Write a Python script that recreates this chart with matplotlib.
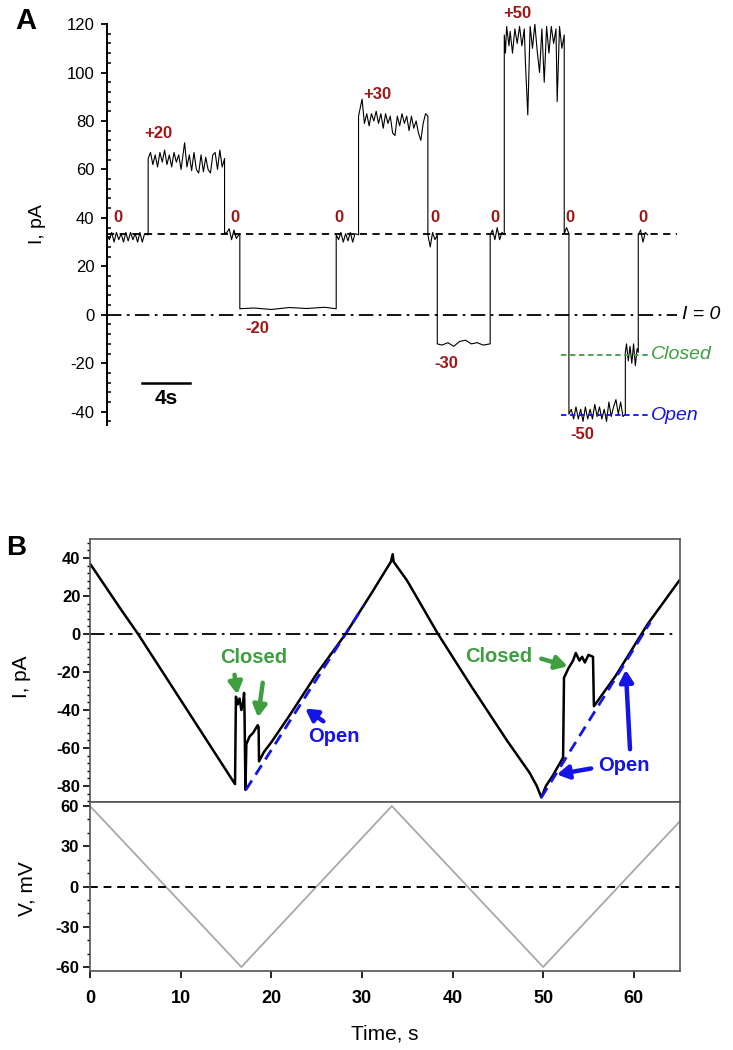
import matplotlib
matplotlib.use('Agg')
import matplotlib.pyplot as plt
from matplotlib.ticker import MultipleLocator

plt.rcParams['font.family'] = ['Liberation Sans', 'DejaVu Sans']
plt.rcParams['axes.unicode_minus'] = False

# ---- panel A: current steps at fixed voltages (time in s, current in pA)
seg_start = [0.0, 3.5, 10.0, 11.3, 19.5, 21.4, 27.3, 28.1, 32.6, 33.8, 38.9, 39.3, 44.1, 45.2]
seg_end = [3.5, 10.0, 11.3, 19.5, 21.4, 27.3, 28.1, 32.6, 33.8, 38.9, 39.3, 44.1, 45.2, 46.0]
seg_level = [33.0, 64.5, 33.5, 2.5, 33.0, 82.0, 33.0, -12.0, 33.0, 115.5, 33.5, -41.0, -15.5, 33.0]
# hand-read noise points inside each segment (t, I)
seg_noise = [
    [(0.2, 31), (0.4, 34), (0.6, 30), (0.8, 34), (1.0, 31), (1.2, 33.5), (1.4, 30), (1.6, 34),
     (1.8, 30.5), (2.0, 34), (2.2, 31), (2.4, 33.5), (2.6, 30), (2.8, 34), (3.0, 30), (3.2, 33.5)],
    [(3.7, 67), (3.9, 62), (4.1, 66), (4.3, 61), (4.5, 67), (4.7, 63), (4.9, 68), (5.1, 62),
     (5.3, 66), (5.5, 61), (5.7, 67), (5.9, 63), (6.1, 66), (6.3, 60), (6.6, 71), (6.8, 61),
     (7.0, 66), (7.2, 59.5), (7.4, 67), (7.6, 60), (7.8, 58.5), (8.0, 66), (8.2, 59), (8.4, 65),
     (8.6, 60), (8.8, 58.5), (9.0, 66), (9.2, 67), (9.4, 60), (9.6, 68), (9.8, 61)],
    [(10.2, 34), (10.4, 35.5), (10.6, 31), (10.8, 35), (11.0, 31.5), (11.2, 33)],
    [(12.5, 2.8), (14.0, 2.2), (15.5, 3.0), (17.0, 2.6), (18.5, 3.1)],
    [(19.7, 31), (19.9, 34), (20.1, 30), (20.3, 33.5), (20.5, 30.5), (20.7, 34), (20.9, 30),
     (21.1, 33.5)],
    [(21.7, 89), (21.9, 79), (22.1, 83), (22.3, 78), (22.5, 83), (22.7, 80), (22.9, 84),
     (23.1, 79), (23.3, 83), (23.5, 77), (23.7, 83), (23.9, 79), (24.1, 82), (24.3, 75),
     (24.5, 74), (24.7, 82), (24.9, 78), (25.1, 83), (25.3, 79), (25.5, 82), (25.7, 76),
     (25.9, 82), (26.1, 77), (26.3, 80), (26.5, 75), (26.7, 72), (26.9, 79), (27.1, 83)],
    [(27.5, 28), (27.7, 34), (27.9, 31)],
    [(28.5, -12.5), (29.0, -11.5), (29.5, -13), (30.0, -11), (30.5, -10.5), (31.0, -12),
     (31.5, -11.5), (32.0, -12.5)],
    [(32.8, 35), (33.0, 31), (33.2, 36), (33.4, 31), (33.6, 34)],
    [(33.9, 108), (34.0, 119), (34.2, 111), (34.3, 117), (34.5, 108), (34.7, 118), (34.9, 112),
     (35.1, 119), (35.3, 111), (35.5, 118), (35.6, 104), (35.8, 82.5), (36.0, 119),
     (36.2, 110), (36.4, 120), (36.6, 109), (36.8, 100), (37.0, 118), (37.2, 96), (37.4, 119),
     (37.6, 108), (37.8, 119), (38.0, 112), (38.2, 118), (38.3, 88), (38.5, 119), (38.7, 110)],
    [(39.1, 36)],
    [(39.5, -39), (39.7, -43), (39.9, -38), (40.1, -43), (40.3, -39), (40.5, -44), (40.7, -38),
     (40.9, -43), (41.1, -39), (41.3, -43), (41.5, -37), (41.7, -42), (41.9, -38), (42.1, -43),
     (42.3, -39), (42.5, -44), (42.7, -36), (42.9, -42), (43.1, -38), (43.3, -35), (43.5, -41),
     (43.7, -36), (43.9, -42)],
    [(44.2, -12), (44.35, -19), (44.5, -13), (44.65, -20), (44.8, -12), (44.95, -21),
     (45.1, -14)],
    [(45.4, 35), (45.6, 30), (45.8, 34)],
]
step_labels = ['0', '+20', '0', '-20', '0', '+30', '0', '-30', '0', '+50', '0', '-50', '0']
label_t = [0.9, 4.4, 10.9, 12.8, 19.7, 23.0, 27.9, 28.9, 33.0, 34.9, 39.4, 40.4, 45.6]
label_i = [40, 75, 40, -5.5, 40, 91, 40, -20, 40, 124.5, 40, -49.5, 40]
zero_mv_level = 33.5
closed_level = -16.5
open_level = -41.5

# ---- panel B: voltage ramp and current response
ramp_t = [0, 16.7, 33.3, 50.0, 65.0]
ramp_v = [60, -60, 60, -60, 48]
trace_t = [0, 0.5, 3.4, 5.3, 10.0, 15.5, 16.0, 16.1, 16.3, 16.5, 16.7, 16.9, 17.0,
           17.05, 17.15, 17.25, 17.6, 18.0, 18.5, 18.6, 18.65, 19.2, 20.0, 22.0, 25.0,
           28.2, 31.0, 33.2, 33.4, 33.5, 35.0, 38.4, 42.0, 46.0, 48.5, 49.3, 49.8, 50.3,
           51.0, 52.2, 52.3, 52.8, 53.3, 53.6, 54.0, 54.3, 54.6, 55.0, 55.5, 55.6, 58.0,
           61.5, 65.0]
trace_i = [37, 33.5, 13, 0, -34.7, -75.3, -79, -33, -37, -34, -40, -36, -31,
           -42, -82, -58, -54, -52, -48, -49, -67, -62, -57, -43, -21,
           0, 21, 38, 42, 38, 28, 0, -27, -56, -73, -80, -86, -80,
           -75, -65, -23, -18, -14, -10, -14, -12, -15, -11, -12, -38, -22,
           5, 28]
open1_t = [17.2, 30.2]
open1_i = [-82, 15]
open2_t = [49.8, 61.8]
open2_i = [-86, 6]

RED = '#a01515'
GREEN = '#3f9e3f'
BLUE = '#1414e6'

fig = plt.figure(figsize=(7.33, 10.5), dpi=100)

# ================= panel A
axA = fig.add_axes([0.146, 0.5952, 0.782, 0.3819])
xs, ys = [], []
for s, e, lev, noise in zip(seg_start, seg_end, seg_level, seg_noise):
    xs.append(s); ys.append(lev)
    for t, v in noise:
        xs.append(t); ys.append(v)
    xs.append(e); ys.append(lev)
axA.plot(xs, ys, color='black', lw=0.8)
axA.plot([0, 48.5], [zero_mv_level] * 2, color='black', ls=(0, (4, 3)), lw=1.3)
axA.plot([0, 48.5], [0, 0], color='black', ls=(0, (8, 3, 1.5, 3)), lw=1.3)
axA.text(48.9, 0, 'I = 0', style='italic', fontsize=14, va='center', ha='left')
axA.plot([38.6, 46.2], [closed_level] * 2, color=GREEN, ls=(0, (3, 2)), lw=1.3)
axA.plot([38.6, 46.2], [open_level] * 2, color=BLUE, ls=(0, (3, 2)), lw=1.3)
axA.text(46.3, closed_level, 'Closed', style='italic', color=GREEN, fontsize=14,
         va='center', ha='left', clip_on=False)
axA.text(46.3, open_level, 'Open', style='italic', color=BLUE, fontsize=14,
         va='center', ha='left', clip_on=False)
for lab, t, v in zip(step_labels, label_t, label_i):
    axA.text(t, v, lab, color=RED, fontsize=12, fontweight='bold', ha='center',
             va='center', clip_on=False)
axA.plot([3.0, 7.06], [-28, -28], color='black', lw=1.8)
axA.text(5.0, -34.5, '4s', fontsize=15, fontweight='bold', ha='center', va='center')

axA.set_xlim(0, 48.77)
axA.set_ylim(-45.5, 120)
for sp in ['top', 'right', 'bottom']:
    axA.spines[sp].set_visible(False)
axA.spines['left'].set_linewidth(1.4)
axA.set_xticks([])
axA.yaxis.set_major_locator(MultipleLocator(20))
axA.yaxis.set_minor_locator(MultipleLocator(4))
axA.tick_params(axis='y', which='major', direction='out', length=4, width=1.3,
                labelsize=12, pad=5)
axA.tick_params(axis='y', which='minor', direction='in', length=3, width=1.1)
axA.set_ylabel('I, pA', fontsize=14)
axA.yaxis.set_label_coords(-0.106, 0.5)
fig.text(26 / 733, 1 - 21 / 1050, 'A', fontsize=21, fontweight='bold', ha='center', va='center')

# ================= panel B, current
axB = fig.add_axes([0.1228, 0.2362, 0.8049, 0.2505])
axB.plot(trace_t, trace_i, color='black', lw=1.8)
axB.plot(open1_t, open1_i, color=BLUE, lw=2, ls=(0, (4, 2.5)))
axB.plot(open2_t, open2_i, color=BLUE, lw=2, ls=(0, (4, 2.5)))
axB.plot([0, 64.4], [0, 0], color='black', ls=(0, (8, 3, 1.5, 3)), lw=1.3)

arrow_g = dict(arrowstyle='-|>,head_length=0.7,head_width=0.4', color=GREEN, lw=3.2)
arrow_b = dict(arrowstyle='-|>,head_length=0.7,head_width=0.4', color=BLUE, lw=3.2)
axB.text(18.1, -12.6, 'Closed', color=GREEN, fontsize=14.5, fontweight='bold',
         ha='center', va='center')
axB.annotate('', xy=(16.3, -33.2), xytext=(15.9, -20), arrowprops=arrow_g)
axB.annotate('', xy=(18.5, -45.3), xytext=(19.1, -24.2), arrowprops=arrow_g)
axB.text(26.9, -54.2, 'Open', color=BLUE, fontsize=14.5, fontweight='bold',
         ha='center', va='center')
axB.annotate('', xy=(23.5, -38.4), xytext=(26.0, -46.8), arrowprops=arrow_b)
axB.text(45.1, -12.1, 'Closed', color=GREEN, fontsize=14.5, fontweight='bold',
         ha='center', va='center')
axB.annotate('', xy=(53.0, -17.4), xytext=(49.5, -12.6), arrowprops=arrow_g)
axB.text(58.9, -69, 'Open', color=BLUE, fontsize=14.5, fontweight='bold',
         ha='center', va='center')
axB.annotate('', xy=(51.2, -74.2), xytext=(55.6, -70.5), arrowprops=arrow_b)
axB.annotate('', xy=(59.1, -17.4), xytext=(59.6, -62.1), arrowprops=arrow_b)

axB.set_xlim(0, 65.1)
axB.set_ylim(-88.4, 50)
axB.set_xticks([])
axB.yaxis.set_major_locator(MultipleLocator(20))
axB.yaxis.set_minor_locator(MultipleLocator(4))
axB.tick_params(axis='y', which='major', direction='out', length=5, width=1.2,
                labelsize=12, pad=2)
axB.tick_params(axis='y', which='minor', direction='out', length=2.5, width=1)
for lab in axB.get_yticklabels():
    lab.set_fontweight('bold')
for sp in axB.spines.values():
    sp.set_linewidth(1.2)
    sp.set_color('#555555')
axB.set_ylabel('I, pA', fontsize=15)
axB.yaxis.set_label_coords(-0.1, 0.475)
fig.text(16 / 733, 1 - 548 / 1050, 'B', fontsize=20, fontweight='bold', ha='center', va='center')

# ================= panel B, voltage
axV = fig.add_axes([0.1228, 0.0752, 0.8049, 0.1610])
axV.plot(ramp_t, ramp_v, color='#a8a8a8', lw=1.3)
axV.plot([0, 65.1], [0, 0], color='black', ls=(0, (4, 3)), lw=1.4)
axV.set_xlim(0, 65.1)
axV.set_ylim(-63, 63)
axV.set_yticks([-60, -30, 0, 30, 60])
axV.yaxis.set_minor_locator(MultipleLocator(10))
axV.set_xticks([0, 10, 20, 30, 40, 50, 60])
axV.tick_params(axis='both', which='major', direction='out', length=5, width=1.2,
                labelsize=12, pad=3)
axV.tick_params(axis='y', which='minor', direction='out', length=2.5, width=1)
axV.tick_params(axis='x', labelsize=13, pad=9)
for lab in axV.get_yticklabels() + axV.get_xticklabels():
    lab.set_fontweight('bold')
for sp in axV.spines.values():
    sp.set_linewidth(1.2)
    sp.set_color('#555555')
axV.set_ylabel('V, mV', fontsize=15)
axV.yaxis.set_label_coords(-0.09, 0.49)
axV.set_xlabel('Time, s', fontsize=15, labelpad=12)

fig.savefig('out.png', dpi=100)
